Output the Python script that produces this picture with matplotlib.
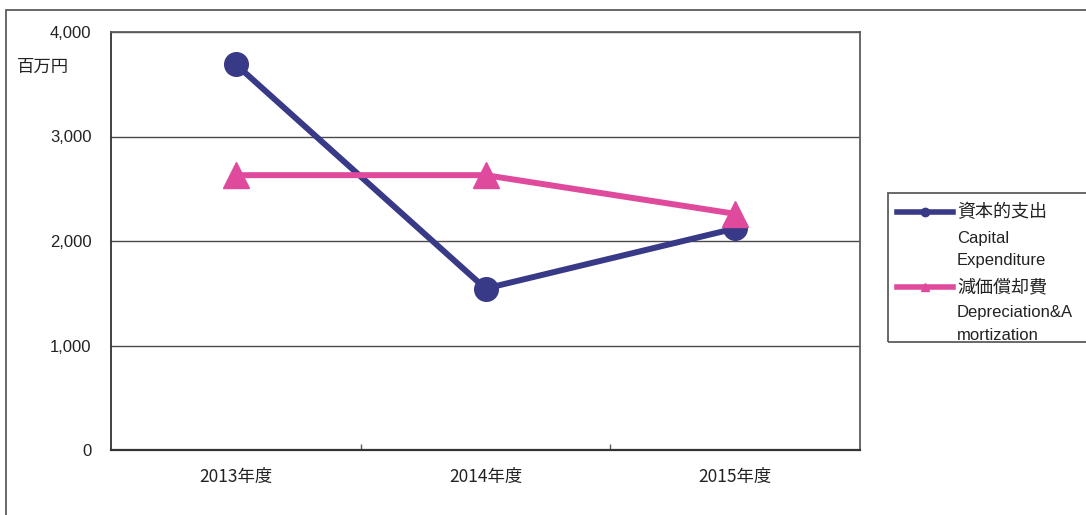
import matplotlib
matplotlib.use("Agg")
import matplotlib.pyplot as plt
from matplotlib.lines import Line2D
from matplotlib.patches import Rectangle

# data (百万円)
years = ["2013年度", "2014年度", "2015年度"]
capex = [3690, 1545, 2120]
depreciation = [2630, 2630, 2260]
capex_label = ["資本的支出", "Capital", "Expenditure"]
dep_label = ["減価償却費", "Depreciation&A", "mortization"]
y_ticks = [0, 1000, 2000, 3000, 4000]

navy = "#383a88"
pink = "#df4a9c"
edge = "#5a5e5a"
jp = ["Noto Sans CJK JP", "DejaVu Sans"]
num = ["Liberation Sans", "DejaVu Sans"]

W, H = 1086, 515
fig = plt.figure(figsize=(W / 100, H / 100), dpi=100)


def fx(px):
    return px / W


def fy(py):
    return 1 - py / H


# outer chart border (runs off the right and bottom)
fig.patches.append(Rectangle((fx(6), fy(560)), fx(1200), fy(10) - fy(560),
                             transform=fig.transFigure, fill=False,
                             edgecolor=edge, linewidth=1.3))

ax = fig.add_axes([fx(111), fy(450), fx(860 - 111), fy(32) - fy(450)])
x = list(range(len(years)))

ax.plot(x, capex, color=navy, linewidth=4.3, marker="o", markersize=17,
        solid_capstyle="round", zorder=3)
ax.plot(x, depreciation, color=pink, linewidth=4.3, marker="^", markersize=19,
        zorder=4)

ax.set_xlim(-0.5, len(years) - 0.5)
ax.set_ylim(0, 4000)
ax.set_yticks(y_ticks)
ax.set_yticklabels([f"{v:,}" for v in y_ticks], family=num, fontsize=12,
                   color="#222222")
ax.tick_params(axis="y", length=0, pad=14)

# category labels centred, tick marks on category boundaries
ax.set_xticks([i + 0.5 for i in x[:-1]])
ax.set_xticklabels([])
ax.tick_params(axis="x", which="major", direction="in", length=4,
               color=edge, width=1)
ax.set_xticks(x, minor=True)
ax.set_xticklabels(years, minor=True, family=jp, fontsize=12.5,
                   color="#222222")
ax.tick_params(axis="x", which="minor", length=0, pad=13)

ax.grid(axis="y", color="#4a4a4a", linewidth=1.0)
ax.set_axisbelow(True)
for s in ax.spines.values():
    s.set_color(edge)
    s.set_linewidth(1.3)
ax.spines["left"].set_color("#333333")
ax.spines["bottom"].set_color("#333333")
ax.spines["bottom"].set_linewidth(1.6)

fig.text(fx(17), fy(67), "百万円", family=jp, fontsize=12.5, va="center",
         ha="left", color="#222222")

# legend box (cut off at the right edge like the reference)
fig.patches.append(Rectangle((fx(888), fy(342)), fx(300), fy(193) - fy(342),
                             transform=fig.transFigure, fill=False,
                             edgecolor=edge, linewidth=1.3))
for row, (lines, color, mk) in enumerate([(capex_label, navy, "o"),
                                          (dep_label, pink, "^")]):
    base = 212 + row * 75
    fig.lines.append(Line2D([fx(897), fx(953)], [fy(base), fy(base)],
                            transform=fig.transFigure, color=color,
                            linewidth=4, marker=None))
    fig.lines.append(Line2D([fx(925)], [fy(base)], transform=fig.transFigure,
                            color=color, marker=mk, markersize=6,
                            linestyle="none"))
    fig.text(fx(957), fy(base), lines[0], family=jp, fontsize=13,
             va="center", ha="left", color="#222222")
    for k, t in enumerate(lines[1:]):
        fig.text(fx(957), fy(base + 26 + k * 23), t, family=num, fontsize=12,
                 va="center", ha="left", color="#222222")

fig.savefig("out.png", dpi=100)
